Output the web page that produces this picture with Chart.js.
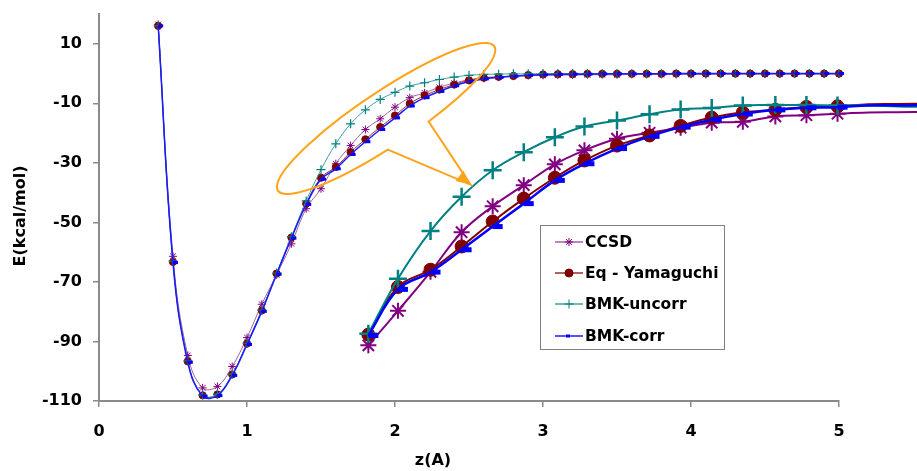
<!DOCTYPE html>
<html>
<head>
<meta charset="utf-8">
<script src="https://cdn.jsdelivr.net/npm/chart.js@4.4.0/dist/chart.umd.min.js"></script>
<style>
  html, body { margin: 0; padding: 0; background: #fff; }
  #wrap { width: 917px; height: 471px; position: relative; }
</style>
</head>
<body>
<div id="wrap"><canvas id="chart"></canvas></div>
<script>
// full curves, z = 0.4 ... 5.0
const zMain = [0.4, 0.5, 0.6, 0.7, 0.8, 0.9, 1.0, 1.1, 1.2, 1.3, 1.4, 1.5, 1.6, 1.7, 1.8, 1.9,
  2.0, 2.1, 2.2, 2.3, 2.4, 2.5, 2.6, 2.7, 2.8, 2.9, 3.0, 3.1, 3.2, 3.3, 3.4, 3.5, 3.6, 3.7,
  3.8, 3.9, 4.0, 4.1, 4.2, 4.3, 4.4, 4.5, 4.6, 4.7, 4.8, 4.9, 5.0];
const ccsdMain = [16.5, -61.4, -94.7, -105.6, -105.1, -98.4, -88.7, -77.5, -67.6, -57.2, -45.4,
  -38.7, -30.3, -24.2, -18.8, -15.2, -11.3, -8.1, -6.5, -4.6, -3.2, -2.1, -1.6, -1.2, -0.9, -0.7,
  -0.6, -0.5, -0.5, -0.4, -0.4, -0.4, -0.3, -0.3, -0.3, -0.3, -0.3, -0.3, -0.2, -0.2, -0.2, -0.2,
  -0.2, -0.2, -0.2, -0.2, -0.2];
const eqMain = [16, -63.3, -96.7, -108.1, -107.8, -101.1, -90.7, -79.6, -67.2, -55.1, -43.7,
  -35.0, -31.4, -26.4, -22.1, -18.0, -14.1, -10.1, -7.4, -5.4, -3.7, -2.3, -1.4, -1.1, -0.8, -0.5,
  -0.3, -0.2, -0.2, -0.1, -0.1, -0.1, -0.1, -0.1, -0.1, 0, 0, 0, 0, 0, 0, 0, 0, 0, 0, 0, 0];
const uncorrMain = [16, -63.0, -96.5, -108.0, -107.7, -101.0, -90.6, -79.5, -67.0, -54.8, -42.8,
  -32.3, -23.6, -16.9, -12.2, -8.7, -6.3, -4.2, -3.1, -2.0, -1.2, -0.6, -0.3, -0.2, -0.1, -0.1,
  0, 0, 0, 0, 0, 0, 0, 0, 0, 0, 0, 0, 0, 0, 0, 0, 0, 0, 0, 0, 0];
const corrMain = [16, -63.5, -97.0, -108.4, -108.2, -101.4, -91.0, -79.9, -67.4, -55.3, -44.0,
  -35.5, -32.0, -27.2, -22.9, -18.8, -14.9, -10.9, -8.1, -6.0, -4.1, -2.7, -1.8, -1.3, -0.9, -0.6,
  -0.4, -0.3, -0.2, -0.2, -0.1, -0.1, -0.1, -0.1, -0.1, 0, 0, 0, 0, 0, 0, 0, 0, 0, 0, 0, 0];

// magnified part (drawn in the same axes, like the original secondary axes)
const zZoom = [1.82, 2.02, 2.24, 2.45, 2.66, 2.87, 3.08, 3.28, 3.50, 3.72, 3.93, 4.14, 4.35,
  4.57, 4.78, 4.99, 5.20, 5.40, 5.61];
const ccsdZoom = [-91.3, -79.7, -66.6, -53.3, -44.6, -37.5, -30.5, -25.8, -21.9, -19.9, -18.2,
  -16.5, -16.2, -14.4, -14.0, -13.5, -13.1, -13.0, -12.9];
const eqZoom = [-87.7, -71.7, -65.9, -58.1, -49.7, -42.0, -35.0, -29.2, -24.2, -20.8, -17.6,
  -14.8, -13.1, -12.2, -11.2, -11.0, -10.3, -10.2, -10.1];
const uncorrZoom = [-87.4, -68.9, -52.9, -41.4, -32.5, -26.4, -21.4, -17.8, -15.8, -13.7, -12.1,
  -11.6, -10.7, -10.6, -10.6, -10.7, -10.7, -11.1, -11.2];
const corrZoom = [-88.0, -72.5, -66.7, -59.2, -51.4, -43.7, -35.9, -30.3, -25.2, -21.1, -18.0,
  -15.5, -13.6, -12.2, -11.5, -11.3, -10.7, -10.7, -10.6];

const seriesNames = ['CCSD', 'Eq - Yamaguchi', 'BMK-uncorr', 'BMK-corr'];
const xTicks = [0, 1, 2, 3, 4, 5];
const yTicks = [-110, -90, -70, -50, -30, -10, 10];

const FONT = '"DejaVu Sans", sans-serif';
const colors = ['#800080', '#800000', '#008080', '#0000ff'];
const mainLine = ['#a060a0', '#903030', '#40a0a0', '#1a1aff'];
const styles = ['star', 'circle', 'cross', 'dash'];

function pts(xs, ys) {
  return xs.map((x, i) => ({ x: x, y: ys[i] }));
}

const mainData = [ccsdMain, eqMain, uncorrMain, corrMain];
const zoomData = [ccsdZoom, eqZoom, uncorrZoom, corrZoom];
const mainRadius = [4, 3.6, 4.5, 5];
const mainPtWidth = [1, 1, 1.2, 3];
const zoomRadius = [8, 6.5, 9, 10];
const zoomPtWidth = [2, 1, 2.5, 5];

const datasets = [];
seriesNames.forEach((name, i) => {
  datasets.push({
    label: name,
    data: pts(zMain, mainData[i]),
    borderColor: mainLine[i],
    borderWidth: i === 3 ? 1.5 : 1,
    pointStyle: styles[i],
    pointRadius: mainRadius[i],
    pointBorderWidth: mainPtWidth[i],
    pointBorderColor: colors[i],
    pointBackgroundColor: colors[i],
    tension: 0.4,
    clip: false,
    order: 8 - i
  });
  datasets.push({
    label: name + ' (zoom)',
    data: pts(zZoom, zoomData[i]),
    borderColor: colors[i],
    borderWidth: i === 3 ? 2.5 : 2,
    pointStyle: styles[i],
    pointRadius: zoomRadius[i],
    pointBorderWidth: zoomPtWidth[i],
    pointBorderColor: colors[i],
    pointBackgroundColor: colors[i],
    tension: 0.4,
    clip: false,
    order: 4 - i
  });
});

// callout ellipse + arrow, legend box and axis titles
const decor = {
  id: 'decor',
  afterDatasetsDraw(chart) {
    const { ctx, scales: { x, y } } = chart;
    const cx = x.getPixelForValue(1.94), cy = y.getPixelForValue(-15.1);
    const tx = x.getPixelForValue(2.51), ty = y.getPixelForValue(-37.3);
    const rot = -33.7 * Math.PI / 180;
    ctx.save();
    ctx.strokeStyle = '#ffa31a';
    ctx.fillStyle = '#ffa31a';
    ctx.lineWidth = 2;
    ctx.beginPath();
    ctx.ellipse(cx, cy, 130, 27, rot, 97 * Math.PI / 180, 435 * Math.PI / 180);
    ctx.lineTo(tx, ty);
    ctx.closePath();
    ctx.stroke();
    // arrow head
    const ang = 38 * Math.PI / 180;
    const len = 14, hw = 6.5;
    const bx = tx - Math.cos(ang) * len, by = ty - Math.sin(ang) * len;
    ctx.beginPath();
    ctx.moveTo(tx, ty);
    ctx.lineTo(bx + Math.sin(ang) * hw, by - Math.cos(ang) * hw);
    ctx.lineTo(bx - Math.sin(ang) * hw, by + Math.cos(ang) * hw);
    ctx.closePath();
    ctx.fill();
    ctx.restore();
  },
  afterDraw(chart) {
    const ctx = chart.ctx;
    ctx.save();
    // legend
    ctx.fillStyle = '#fff';
    ctx.fillRect(540.5, 225.5, 184, 124);
    ctx.strokeStyle = '#808080';
    ctx.lineWidth = 1;
    ctx.strokeRect(540.5, 225.5, 184, 124);
    const rows = [242, 273, 304, 336];
    const legRadius = [4, 4, 4.5, 4];
    const legWidth = [1, 1, 1, 3];
    seriesNames.forEach((name, i) => {
      const ry = rows[i];
      ctx.strokeStyle = mainLine[i];
      ctx.lineWidth = 1.5;
      ctx.beginPath();
      ctx.moveTo(555, ry);
      ctx.lineTo(583, ry);
      ctx.stroke();
      ctx.strokeStyle = colors[i];
      ctx.fillStyle = colors[i];
      ctx.lineWidth = legWidth[i];
      Chart.helpers.drawPoint(ctx, {
        pointStyle: styles[i], radius: legRadius[i], rotation: 0, borderWidth: legWidth[i]
      }, i === 3 ? 566 : 569, ry);
      ctx.fillStyle = '#000';
      ctx.font = 'bold 15.5px ' + FONT;
      ctx.textAlign = 'left';
      ctx.textBaseline = 'middle';
      ctx.fillText(name, 585, ry + 1);
    });
    // axis titles
    ctx.fillStyle = '#000';
    ctx.font = 'bold 16px ' + FONT;
    ctx.textAlign = 'center';
    ctx.textBaseline = 'middle';
    ctx.fillText('z(A)', 433, 461);
    ctx.translate(21, 216);
    ctx.rotate(-Math.PI / 2);
    ctx.fillText('E(kcal/mol)', 0, 0);
    ctx.restore();
  }
};

new Chart(document.getElementById('chart'), {
  type: 'line',
  data: { datasets: datasets },
  options: {
    responsive: true,
    maintainAspectRatio: false,
    devicePixelRatio: 1,
    animation: false,
    events: [],
    layout: { autoPadding: false, padding: { left: 0, right: 78, top: 14, bottom: 0 } },
    plugins: {
      legend: { display: false },
      tooltip: { enabled: false }
    },
    scales: {
      x: {
        type: 'linear',
        afterDataLimits: function(scale) { scale.min = 0; scale.max = 5; },
        afterBuildTicks: function(scale) { scale.ticks = xTicks.map(v => ({ value: v })); },
        afterFit: function(scale) { scale.height = 70; scale.paddingLeft = 0; scale.paddingRight = 0; },
        grid: { drawOnChartArea: false, drawTicks: true, tickLength: 6, color: '#8a8a8a', lineWidth: 1.5 },
        border: { color: '#8a8a8a', width: 2 },
        ticks: { color: '#000', padding: 15, font: { family: FONT, size: 16, weight: 'bold' } }
      },
      y: {
        type: 'linear',
        min: -110,
        max: 20,
        afterBuildTicks: function(scale) { scale.ticks = yTicks.map(v => ({ value: v })); },
        afterFit: function(scale) { scale.width = 99; scale.paddingTop = 0; scale.paddingBottom = 0; },
        grid: { drawOnChartArea: false, drawTicks: true, tickLength: 6, color: '#8a8a8a', lineWidth: 1.5 },
        border: { color: '#8a8a8a', width: 2 },
        ticks: { color: '#000', padding: 11, font: { family: FONT, size: 16, weight: 'bold' } }
      }
    }
  },
  plugins: [decor]
});
</script>
</body>
</html>
